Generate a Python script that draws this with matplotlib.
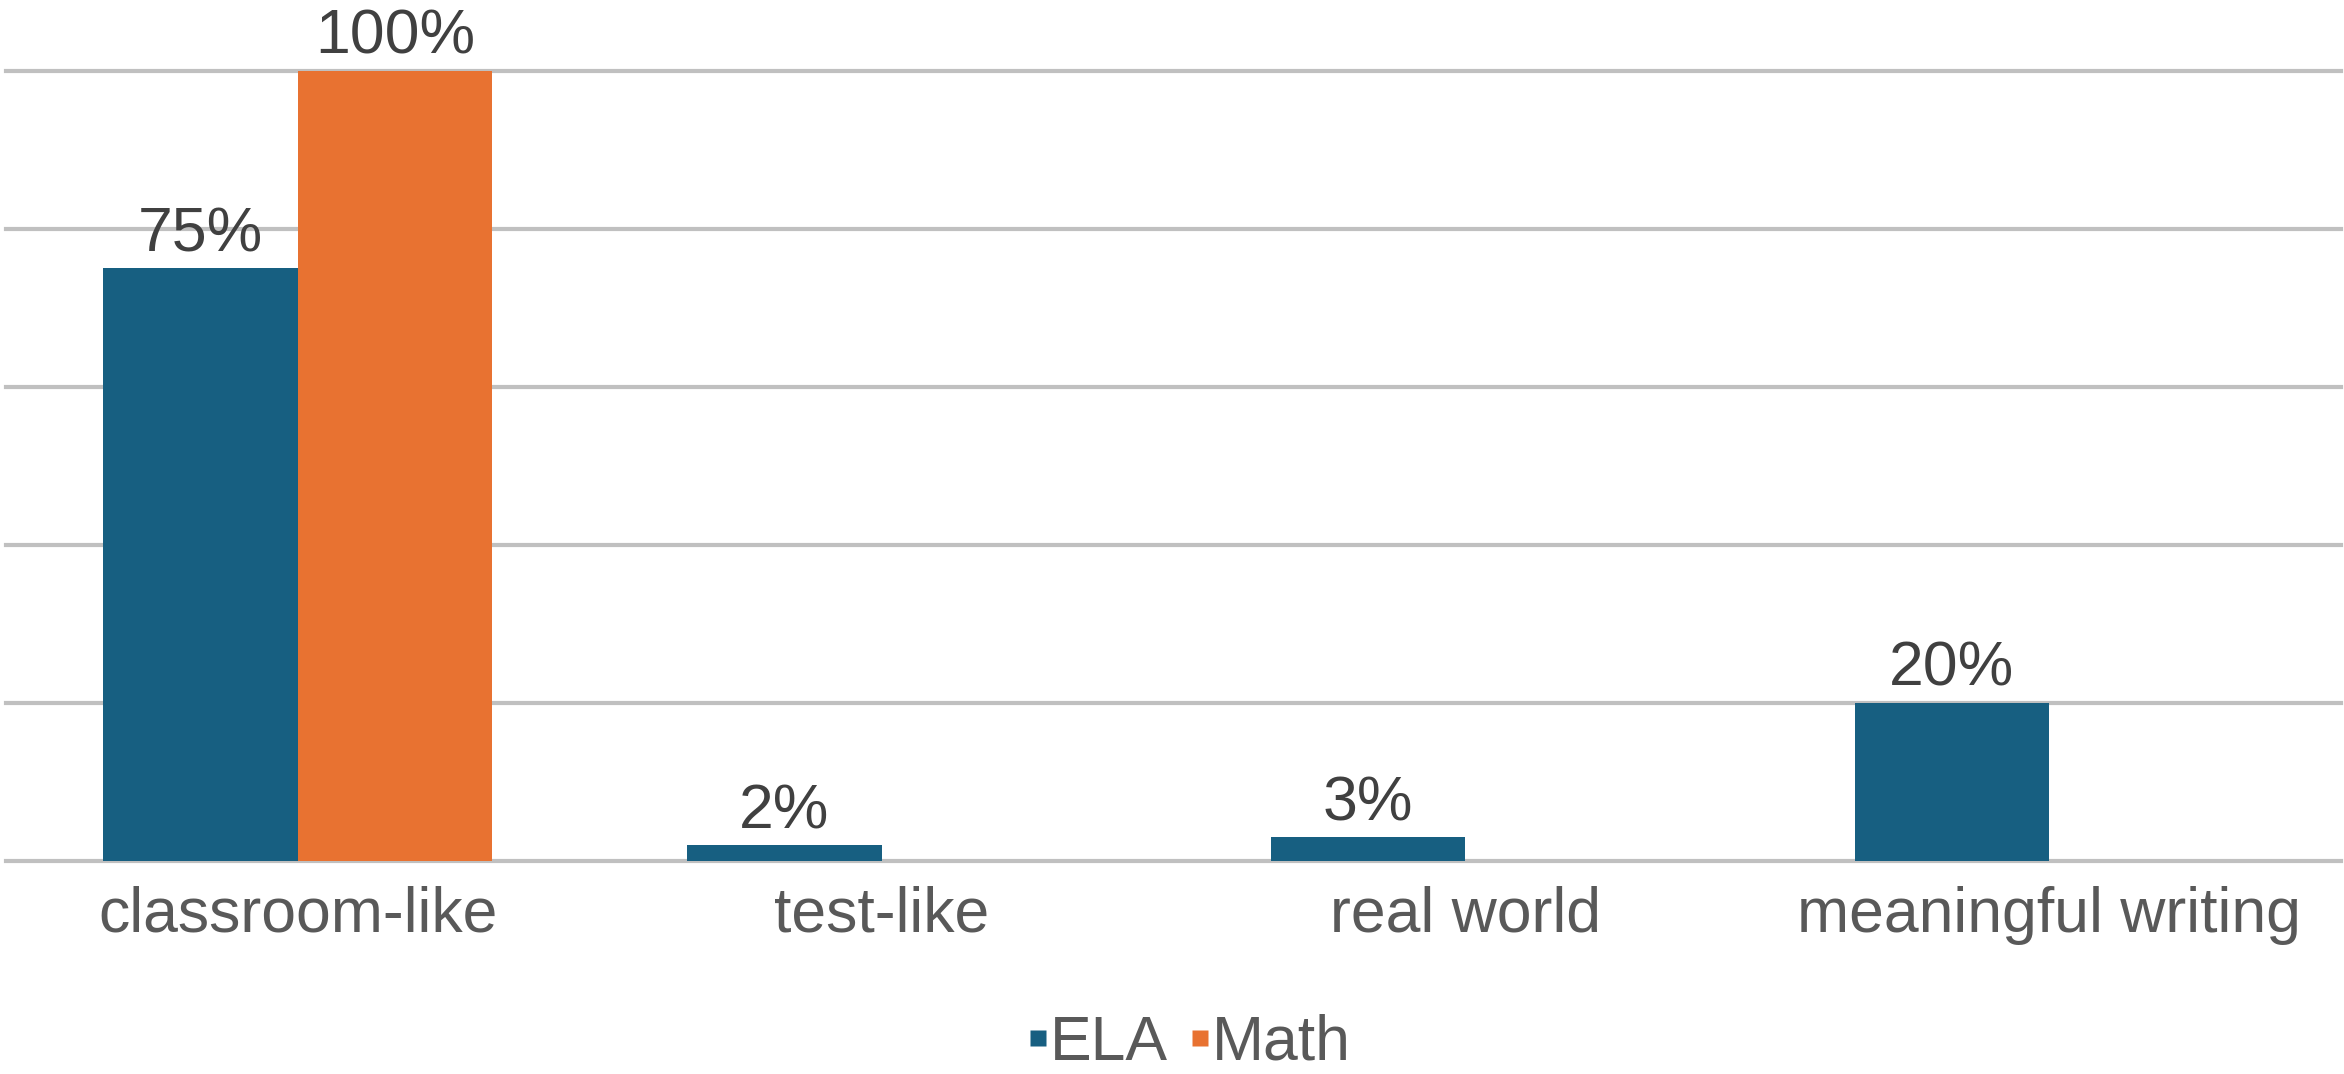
import matplotlib
matplotlib.use("Agg")
import matplotlib.pyplot as plt
from matplotlib.lines import Line2D
import numpy as np

# Share of tasks by type, per subject
categories = ["classroom-like", "test-like", "real world", "meaningful writing"]
ela_values = [0.75, 0.02, 0.03, 0.20]
math_values = [1.00, 0.00, 0.00, 0.00]
series_names = ["ELA", "Math"]

ELA_COLOR = "#175f81"
MATH_COLOR = "#e87231"
GRID_COLOR = "#c0c0c0"
TEXT_COLOR = "#595959"
LABEL_COLOR = "#404040"
FS = 45

plt.rcParams["font.family"] = ["Liberation Sans", "DejaVu Sans"]

W, H = 2344, 1074
fig = plt.figure(figsize=(W / 100, H / 100), dpi=100)

# axes geometry in pixels: zero line at y=861, 100% line at y=71
y0_px, y100_px = 861, 71
ymax = 1.1
height_px = (y0_px - y100_px) * ymax
ax = fig.add_axes([6 / W, (H - y0_px) / H, 2335 / W, height_px / H])

x = np.arange(len(categories))
bw = 1 / 3
ela_bars = ax.bar(x - bw / 2, ela_values, width=bw, color=ELA_COLOR, zorder=3)
math_bars = ax.bar(x + bw / 2, math_values, width=bw, color=MATH_COLOR, zorder=3)

# value labels only for bars that carry a value
for bars, vals in ((ela_bars, ela_values), (math_bars, math_values)):
    labels = [f"{v:.0%}" if v > 0 else "" for v in vals]
    ax.bar_label(bars, labels=labels, padding=3, fontsize=FS,
                 color=LABEL_COLOR, zorder=4)

ax.set_xlim(-0.5, len(categories) - 0.5)
ax.set_ylim(0, ymax)
ax.set_yticks(np.arange(0, 1.01, 0.2))
ax.yaxis.grid(True, color=GRID_COLOR, linewidth=3, zorder=0)
for gl in ax.get_ygridlines():
    gl.set_clip_on(False)
ax.tick_params(axis="y", left=False, labelleft=False)
ax.set_xticks(x)
ax.set_xticklabels(categories, fontsize=FS, color=TEXT_COLOR)
ax.tick_params(axis="x", length=0, pad=18)
for s in ax.spines.values():
    s.set_visible(False)

handles = [
    Line2D([], [], marker="s", linestyle="none", markersize=11,
           markerfacecolor=ELA_COLOR, markeredgecolor="none"),
    Line2D([], [], marker="s", linestyle="none", markersize=11,
           markerfacecolor=MATH_COLOR, markeredgecolor="none"),
]
fig.legend(handles, series_names, loc="center", bbox_to_anchor=(1188 / W, 1 - 1043 / H),
           ncol=2, frameon=False, fontsize=FS, labelcolor=TEXT_COLOR,
           handletextpad=0.0, columnspacing=0.3, handlelength=0.4)

fig.savefig("out.png", dpi=100)
